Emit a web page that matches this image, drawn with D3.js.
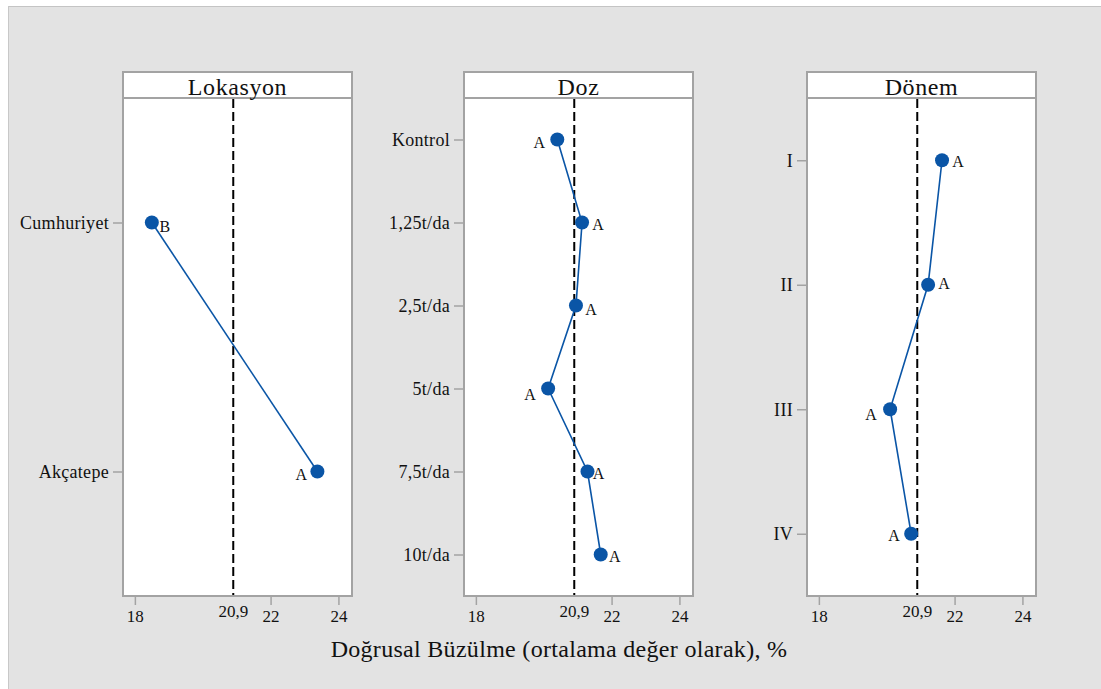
<!DOCTYPE html>
<html>
<head>
<meta charset="utf-8">
<script src="https://cdn.jsdelivr.net/npm/d3@7"></script>
<style>
  body { margin: 0; background: #fff; }
</style>
</head>
<body>
<svg id="chart" width="1101" height="689"></svg>
<script>
// data
const lokasyonCats = ["Cumhuriyet", "Akçatepe"];
const lokasyonVals = [18.5, 23.38];
const lokasyonLetters = ["B", "A"];

const dozCats = ["Kontrol", "1,25t/da", "2,5t/da", "5t/da", "7,5t/da", "10t/da"];
const dozVals = [20.4, 21.13, 20.95, 20.13, 21.29, 21.68];
const dozLetters = ["A", "A", "A", "A", "A", "A"];

const donemCats = ["I", "II", "III", "IV"];
const donemVals = [21.63, 21.22, 20.1, 20.72];
const donemLetters = ["A", "A", "A", "A"];

const grandMean = 20.9;
const grandMeanLabel = "20,9";
const xTicks = [18, 22, 24];
const xTitle = "Doğrusal Büzülme (ortalama değer olarak), %";

// letter offsets next to each point (layout only)
const lokasyonOffsets = [[13, 4], [-16, 3]];
const dozOffsets = [[-18, 3], [16, 2], [15, 4], [-18, 6], [11, 2], [14, 2]];
const donemOffsets = [[16, 1], [16, -1], [-19, 5], [-17, 2]];

const svg = d3.select("#chart");
const W = 1101, H = 689;
const serif = "'Liberation Serif', 'Times New Roman', serif";

// grey page background
svg.append("rect").attr("x", 8).attr("y", 6).attr("width", W - 8).attr("height", H - 6)
  .attr("fill", "#e3e3e3");
svg.append("line").attr("x1", 8).attr("x2", W).attr("y1", 6.5).attr("y2", 6.5)
  .attr("stroke", "#c4c4c4");
svg.append("line").attr("x1", 8.5).attr("x2", 8.5).attr("y1", 6).attr("y2", H)
  .attr("stroke", "#c8c8c8");

const headTop = 72, plotTop = 98, plotBottom = 596, panelW = 229;
const blue = "#0a55a6";

const panels = [
  { title: "Lokasyon", left: 123, cats: lokasyonCats, vals: lokasyonVals, letters: lokasyonLetters, offs: lokasyonOffsets },
  { title: "Doz", left: 464, cats: dozCats, vals: dozVals, letters: dozLetters, offs: dozOffsets },
  { title: "Dönem", left: 807, cats: donemCats, vals: donemVals, letters: donemLetters, offs: donemOffsets }
];

panels.forEach(p => {
  const x = d3.scaleLinear().domain([17.65, 24.4]).range([p.left, p.left + panelW]);
  const y = d3.scalePoint().domain(p.cats).range([plotTop, plotBottom]).padding(0.5);

  // plot area
  svg.append("rect")
    .attr("x", p.left).attr("y", plotTop)
    .attr("width", panelW).attr("height", plotBottom - plotTop)
    .attr("fill", "#fff").attr("stroke", "#a3a3a3").attr("stroke-width", 2);

  // header strip
  svg.append("rect")
    .attr("x", p.left).attr("y", headTop)
    .attr("width", panelW).attr("height", plotTop - headTop)
    .attr("fill", "#fff").attr("stroke", "#a3a3a3").attr("stroke-width", 2);
  svg.append("text")
    .attr("x", p.left + panelW / 2).attr("y", plotTop - 3)
    .attr("text-anchor", "middle").attr("font-size", "24px")
    .attr("font-family", serif).attr("letter-spacing", "0.6px")
    .attr("fill", "#111")
    .text(p.title);

  // axes
  const ay = svg.append("g").attr("transform", `translate(${p.left - 1},0)`)
    .call(d3.axisLeft(y).tickSize(9).tickPadding(4));
  ay.select(".domain").remove();
  ay.selectAll("line").attr("stroke", "#a3a3a3").attr("stroke-width", 1.5);
  ay.selectAll("text").attr("font-size", "18px").attr("letter-spacing", "0.3px")
    .attr("font-family", serif).attr("fill", "#111");

  const ax = svg.append("g").attr("transform", `translate(0,${plotBottom + 1})`)
    .call(d3.axisBottom(x).tickValues(xTicks).tickFormat(d3.format("d")).tickSize(8).tickPadding(5));
  ax.select(".domain").remove();
  ax.selectAll("line").attr("stroke", "#a3a3a3").attr("stroke-width", 1.5);
  ax.selectAll("text").attr("font-size", "17px").attr("font-family", serif).attr("fill", "#111");

  svg.append("text")
    .attr("x", x(grandMean)).attr("y", plotBottom + 21)
    .attr("text-anchor", "middle").attr("font-size", "17px")
    .attr("font-family", serif).attr("fill", "#111")
    .text(grandMeanLabel);

  // grand mean reference line
  svg.append("line")
    .attr("x1", x(grandMean)).attr("x2", x(grandMean))
    .attr("y1", plotTop + 1).attr("y2", plotBottom - 1)
    .attr("stroke", "#000").attr("stroke-width", 2).attr("stroke-dasharray", "9,4");

  const pts = p.cats.map((c, i) => ({ c, v: p.vals[i], l: p.letters[i], o: p.offs[i] }));

  svg.append("path").datum(pts)
    .attr("fill", "none").attr("stroke", blue).attr("stroke-width", 1.6)
    .attr("d", d3.line().x(d => x(d.v)).y(d => y(d.c)));

  svg.selectAll(null).data(pts).enter().append("circle")
    .attr("cx", d => x(d.v)).attr("cy", d => y(d.c)).attr("r", 7)
    .attr("fill", blue);

  svg.selectAll(null).data(pts).enter().append("text")
    .attr("x", d => x(d.v) + d.o[0]).attr("y", d => y(d.c) + d.o[1])
    .attr("dy", "0.35em").attr("text-anchor", "middle")
    .attr("font-size", "16px").attr("font-family", serif).attr("fill", "#111")
    .text(d => d.l);
});

svg.append("text")
  .attr("x", 559).attr("y", 657)
  .attr("text-anchor", "middle").attr("font-size", "24px")
  .attr("letter-spacing", "0.3px")
  .attr("font-family", serif).attr("fill", "#111")
  .text(xTitle);
</script>
</body>
</html>
